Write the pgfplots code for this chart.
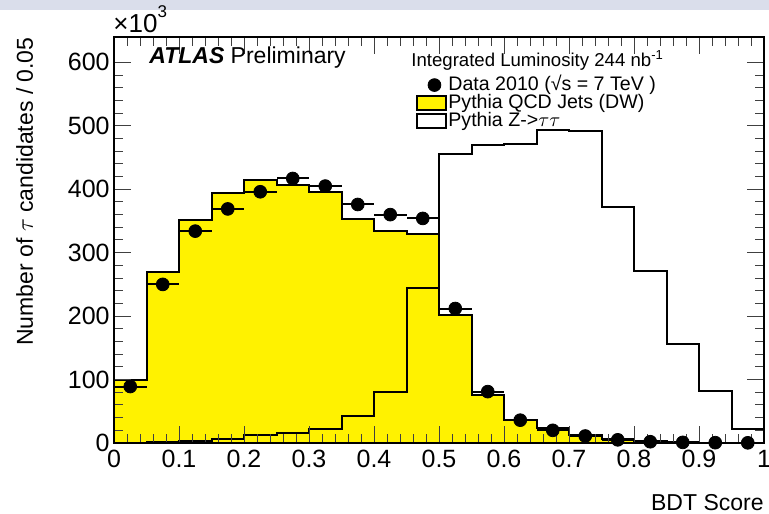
\documentclass[border=0pt]{standalone}
\usepackage{fontspec}
\setmainfont{Liberation Sans}
\usepackage{pgfplots}
\pgfplotsset{compat=1.18}
\definecolor{topband}{RGB}{218,222,235}
\begin{document}
\begin{tikzpicture}
\useasboundingbox (-57pt,-35pt) rectangle (327.5pt,221.5pt);
\fill[white] (-57pt,-35pt) rectangle (327.5pt,221.5pt);
\fill[topband] (-57pt,216.5pt) rectangle (327.5pt,221.5pt);
\begin{axis}[
  at={(0,0)}, anchor=south west,
  scale only axis, width=325pt, height=203pt,
  xmin=0, xmax=1, ymin=0, ymax=640,
  xtick={0,0.1,0.2,0.3,0.4,0.5,0.6,0.7,0.8,0.9,1},
  xticklabels={0,0.1,0.2,0.3,0.4,0.5,0.6,0.7,0.8,0.9,1},
  ytick={0,100,200,300,400,500,600},
  yticklabels={0,100,200,300,400,500,600},
  minor x tick num=4, minor y tick num=4,
  tick align=inside, tick pos=both,
  axis on top, clip=false,
  axis line style={line width=0.75pt},
  major tick length=8.5pt, minor tick length=4.5pt,
  tick style={line width=0.5pt, black!75},
  ticklabel style={font=\fontsize{12.5}{14}\selectfont},
  xticklabel style={inner sep=0pt, yshift=-3.5pt},
  yticklabel style={inner sep=0pt, xshift=-2pt},
  legend cell align=left,
  legend style={draw=none, fill=none, at={(0.4646,0.905)}, anchor=north west,
    font=\fontsize{9.8}{10}\selectfont, row sep=0pt, inner sep=0pt,
    nodes={inner sep=0.5pt},
    /tikz/every even column/.append style={text height=6.6pt, text depth=1.2pt, inner sep=0pt}},
]
\addlegendimage{only marks, mark=*, mark size=3.2pt, black}
\addlegendentry{Data 2010 (√s = 7 TeV )}
\addplot[const plot, fill=yellow, draw=black, line width=1pt,
  legend image code/.code={\draw[line width=1pt, fill=yellow] (0pt,-3.5pt) rectangle (14.5pt,3.5pt);}]
coordinates {(0,100) (0.05,270) (0.1,352) (0.15,394) (0.2,414) (0.25,407) (0.3,395) (0.35,353) (0.4,334) (0.45,330) (0.5,202) (0.55,76) (0.6,36) (0.65,23) (0.7,13) (0.75,6) (0.8,3) (0.85,1.5) (0.9,0.7) (0.95,0.3) (1,0.3)} \closedcycle;
\addlegendentry{Pythia QCD Jets (DW)}
\addplot[const plot, draw=black, line width=1pt,
  legend image code/.code={\draw[line width=1pt, fill=white] (0pt,-3.5pt) rectangle (14.5pt,3.5pt);}]
coordinates {(0,0.5) (0.05,1) (0.1,3) (0.15,7) (0.2,12) (0.25,15) (0.3,22) (0.35,43) (0.4,81) (0.45,244) (0.5,456) (0.55,470) (0.6,472) (0.65,493) (0.7,492) (0.75,372) (0.8,271) (0.85,156) (0.9,82) (0.95,22) (1,22)};
\addlegendentry{Pythia Z->$\tau\tau$}
\addplot[only marks, mark=*, mark size=3.2pt, black, forget plot,
  error bars/.cd, x dir=both, x fixed=0.025, error mark=none,
  error bar style={line width=1pt, black}]
coordinates {(0.025,89) (0.075,250) (0.125,334) (0.175,369) (0.225,396) (0.275,417) (0.325,405) (0.375,376) (0.425,360) (0.475,354) (0.525,212) (0.575,81) (0.625,36) (0.675,20) (0.725,11) (0.775,5) (0.825,2) (0.875,1) (0.925,0.5) (0.975,0.3)};
\end{axis}
\node[anchor=base west, font=\fontsize{13}{15}\selectfont, inner sep=0pt] at (-0.5pt,205pt) {×10\raisebox{1.1ex}{\fontsize{8.5}{9}\selectfont 3}};
\node[anchor=base west, font=\fontsize{11.5}{13}\selectfont, inner sep=0pt] at (17.5pt,189.5pt) {\textbf{\textit{ATLAS}} Preliminary};
\node[anchor=base west, font=\fontsize{9.3}{11}\selectfont, inner sep=0pt] at (148.5pt,188pt) {Integrated Luminosity 244 nb\textsuperscript{-1}};
\node[rotate=90, anchor=base east, font=\fontsize{11.5}{13}\selectfont, inner sep=0pt] at (-40.5pt,203pt) {Number of $\tau$ candidates / 0.05};
\node[anchor=base east, font=\fontsize{11.5}{13}\selectfont, inner sep=0pt] at (325pt,-33.5pt) {BDT Score};
\end{tikzpicture}
\end{document}
